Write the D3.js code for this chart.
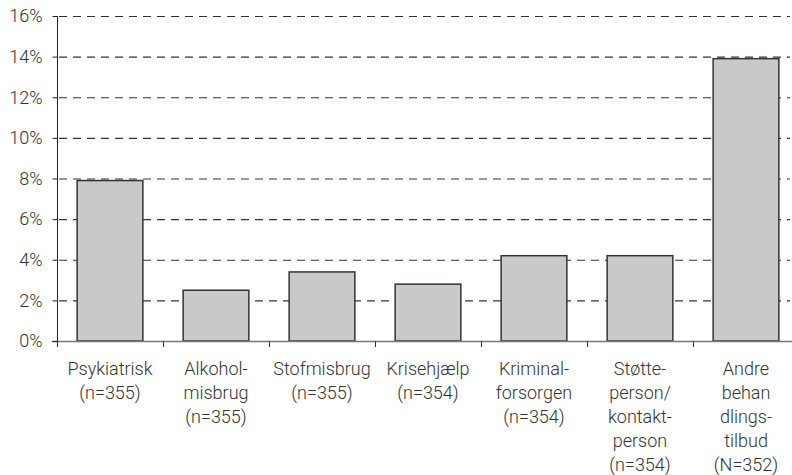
<!DOCTYPE html>
<html>
<head>
<meta charset="utf-8">
<script src="https://cdn.jsdelivr.net/npm/d3@7"></script>
<style>
  body { margin: 0; background: #fff; }
  text { font-family: Roboto, "DejaVu Sans", sans-serif; font-weight: 300; fill: #333; }
</style>
</head>
<body>
<svg width="792" height="475"></svg>
<script>
// categories split into the lines shown under each bar
const categories = [
  ["Psykiatrisk", "(n=355)"],
  ["Alkohol-", "misbrug", "(n=355)"],
  ["Stofmisbrug", "(n=355)"],
  ["Krisehjælp", "(n=354)"],
  ["Kriminal-", "forsorgen", "(n=354)"],
  ["Støtte-", "person/", "kontakt-", "person", "(n=354)"],
  ["Andre", "behan", "dlings-", "tilbud", "(N=352)"]
]
const values = [7.9, 2.5, 3.4, 2.8, 4.2, 4.2, 13.9]
const yTicks = [0, 2, 4, 6, 8, 10, 12, 14, 16]

const svg = d3.select("svg")
const left = 57
const plotTop = 16
const bottom = 341

const x = d3
  .scaleBand()
  .domain(d3.range(values.length))
  .range([left, left + 106 * 7])
  .paddingInner(0.38)
  .paddingOuter(0.19)

const y = d3.scaleLinear().domain([0, 16]).range([bottom, plotTop])

// dashed gridlines
svg
  .append("g")
  .selectAll("line")
  .data(yTicks.filter((d) => d > 0))
  .join("line")
  .attr("x1", left)
  .attr("x2", 790)
  .attr("y1", (d) => y(d) + 0.5)
  .attr("y2", (d) => y(d) + 0.5)
  .attr("stroke", "#333")
  .attr("stroke-width", 1.2)
  .attr("stroke-dasharray", "8,6")
  .attr("stroke-dashoffset", -2)

// bars
svg
  .append("g")
  .selectAll("rect")
  .data(values)
  .join("rect")
  .attr("x", (d, i) => x(i))
  .attr("y", (d) => y(d))
  .attr("width", x.bandwidth())
  .attr("height", (d) => bottom - y(d))
  .attr("fill", "#c8c9ca")
  .attr("stroke", "#333")
  .attr("stroke-width", 1.5)

// x axis: baseline plus ticks at band boundaries
const step = x.step()
svg
  .append("line")
  .attr("x1", left - 5)
  .attr("x2", 792)
  .attr("y1", bottom + 0.5)
  .attr("y2", bottom + 0.5)
  .attr("stroke", "#777")
  .attr("stroke-width", 1.3)

svg
  .append("g")
  .selectAll("line")
  .data(d3.range(values.length))
  .join("line")
  .attr("x1", (i) => left + i * step + 0.5)
  .attr("x2", (i) => left + i * step + 0.5)
  .attr("y1", bottom)
  .attr("y2", bottom + 6)
  .attr("stroke", "#333")

// y axis
const yAxis = svg
  .append("g")
  .attr("transform", "translate(" + (left + 0.5) + ",0)")
  .call(
    d3
      .axisLeft(y)
      .tickValues(yTicks)
      .tickSize(5)
      .tickPadding(10)
      .tickFormat((d) => d + "%")
  )
yAxis.select(".domain").attr("d", "M0," + plotTop + "V" + bottom).attr("stroke", "#222")
yAxis.selectAll(".tick line").attr("stroke", "#222")
yAxis
  .selectAll(".tick text")
  .attr("font-size", 18)
  .attr("font-family", null)
  .attr("fill", null)

// category labels
svg
  .append("g")
  .selectAll("text")
  .data(categories)
  .join("text")
  .attr("text-anchor", "middle")
  .attr("font-size", 18)
  .attr("transform", (d, i) => "translate(" + (x(i) + x.bandwidth() / 2) + ",375)")
  .selectAll("tspan")
  .data((d) => d)
  .join("tspan")
  .attr("x", 0)
  .attr("y", (d, j) => j * 24)
  .text((d) => d)
</script>
</body>
</html>
